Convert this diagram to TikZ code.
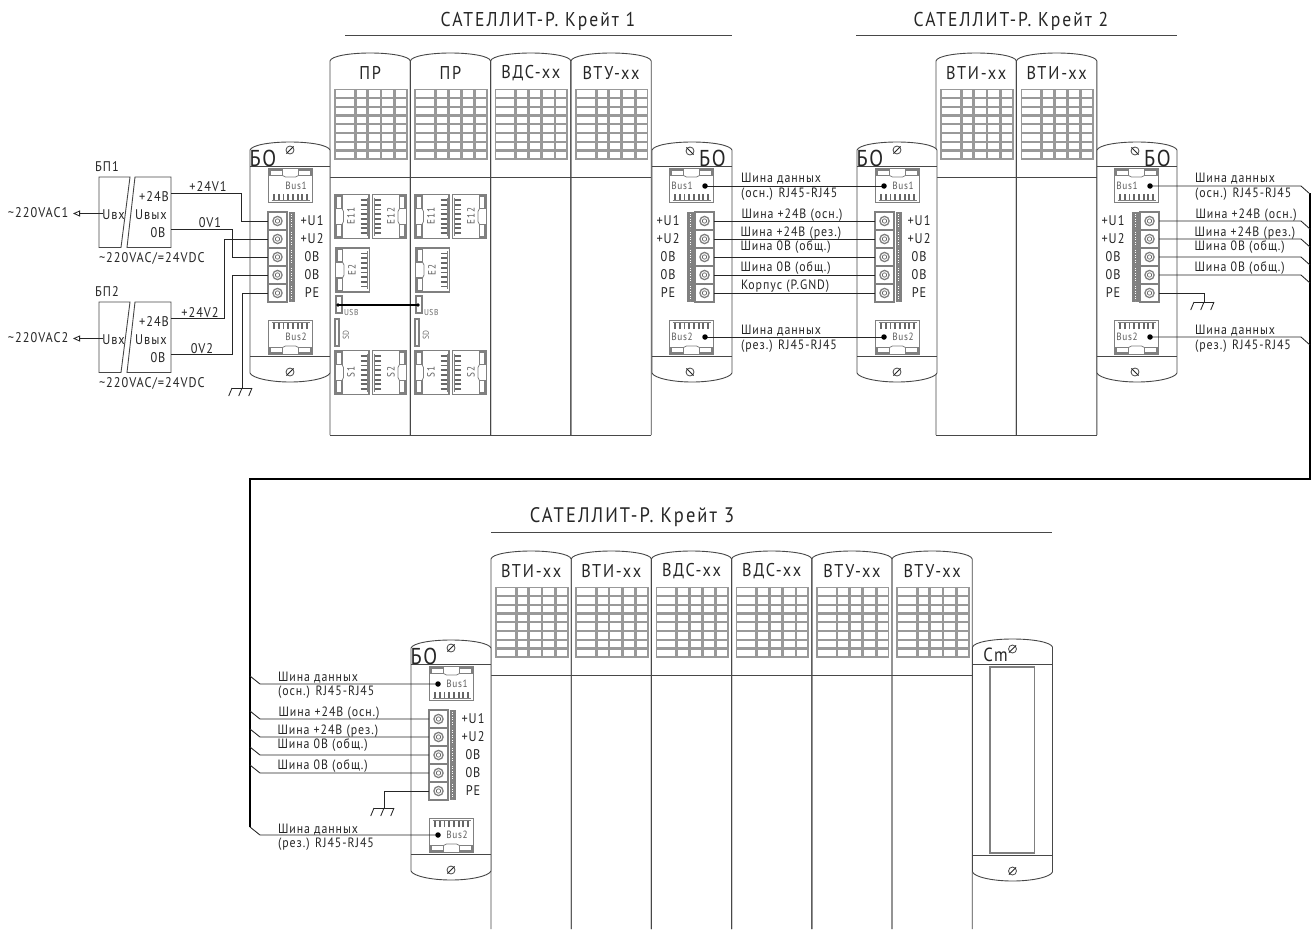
\documentclass[tikz,border=0pt]{standalone}
\usepackage{fontspec}
\setmainfont{PT Sans}
\newfontfamily\gost[LetterSpace=7,FakeStretch=0.88]{PT Sans}
\newfontfamily\gostw[LetterSpace=10,FakeStretch=0.88]{PT Sans}
\usetikzlibrary{arrows.meta,calc}
\definecolor{lg}{gray}{0.5}
\definecolor{ink}{gray}{0.15}
\tikzset{
  every node/.style={inner sep=0pt,outer sep=0pt,text=ink},
  mline/.style={draw=ink!85!white,line width=0.9pt},
  wire/.style={draw=ink,line width=0.85pt},
  tbus/.style={draw=black,line width=2.4pt},
  gbox/.style={draw=lg,line width=1.5pt},
  gthin/.style={draw=lg,line width=0.9pt},
  crate/.style={font=\gostw\fontsize{20}{20}\selectfont},
  crateb/.style={font=\gostw\fontsize{21}{21}\selectfont},
  modt/.style={font=\gostw\fontsize{18.5}{18.5}\selectfont},
  bot/.style={font=\gost\fontsize{23}{23}\selectfont},
  wl/.style={anchor=west,font=\gost\fontsize{13.5}{13.5}\selectfont},
  term/.style={font=\gost\fontsize{14}{14}\selectfont},
  buslab/.style={text=ink!75!white,font=\gost\fontsize{10.5}{10.5}\selectfont},
  tiny/.style={text=ink!70!white,font=\gost\fontsize{8.5}{8.5}\selectfont},
  psu/.style={font=\gost\fontsize{14}{14}\selectfont},
  psuw/.style={anchor=west,font=\gost\fontsize{14}{14}\selectfont},
  dotn/.style={circle,fill=black,minimum size=5.5pt}
}
% LED grid at module origin
\newcommand\LedGrid[1]{%
  \foreach \r in {0,...,7}{%
    \foreach \a/\b in {5/24.7,25.8/37.3,38.4/50.4,51.5/63.9,65/76.7}{%
      \draw[draw=lg!80!white,line width=1.7pt] (#1+\a,36.5+\r*8.75) rectangle (#1+\b,36.5+8.2+\r*8.75);
    }}}
% module: name, x, top, width, title, bottom(relative)
\newcommand\ModuleBody[6]{%
  \begin{scope}[shift={(#2,#3)}]
    \draw[mline] (0,#6) -- (0,8) .. controls (1,3) and (20,0) .. (#4/2,0)
       .. controls (#4-20,0) and (#4-1,3) .. (#4,8) -- (#4,#6);
    \draw[mline] (0,124) -- (#4,124);
    \node[modt] (#1-t) at (#4/2,20) {#5};
    \LedGrid{0}
  \end{scope}}
% RJ45, origin centre, pins down; rotate/flip through options
\newcommand\RJ[2]{%
  \begin{scope}[shift={(#1)},#2]
    \draw[gbox,fill=white] (-22,-17) rectangle (22,17);
    \draw[gthin,line width=1.1pt] (-20.5,-15.5) rectangle (-8,-10);
    \draw[gthin,line width=1.1pt] (8,-15.5) rectangle (20.5,-10);
    \draw[draw=lg,line width=0.8pt] (-8,-10) -- (-5,-8.5) -- (5,-8.5) -- (8,-10);
    \foreach \p in {-16.5,-11.8,-7.1,-2.4,2.4,7.1,11.8,16.5}{\draw[draw=ink!70!white,line width=1.8pt] (\p,8.5) -- (\p,15);}
    \draw[draw=lg,line width=1pt] (-19,15) -- (19,15);
  \end{scope}}
\newcommand\Screw[4]{% name,x,y,dir
  \node[circle,draw=ink!85!white,line width=0.8pt,minimum size=8pt] (#1) at (#2,#3) {};
  \draw[draw=ink,line width=0.8pt] ($(#1)+(-3.6*#4,3.6)$) -- ($(#1)+(3.6*#4,-3.6)$);}
\newcommand\Shell{%
  \draw[mline,fill=white] (0,0) .. controls (2,-5) and (20,-8) .. (40,-8)
     .. controls (60,-8) and (78,-5) .. (80,0) -- (80,223)
     .. controls (78,228) and (60,232) .. (40,232) .. controls (20,232) and (2,228) .. (0,223) -- cycle;
  \draw[mline] (0,16) -- (80,16);
  \draw[mline] (0,206) -- (80,206);}
\newcommand\TermRow[3]{% screwx, stripe x0, y
  \draw[gbox,line width=1.3pt] (#1-9.5,#3-9) rectangle (#1+9.5,#3+9);
  \draw[draw=lg,line width=1.3pt] (#1,#3) circle (4.6pt);
  \draw[draw=ink!70!white,line width=0.7pt] (#1,#3) circle (2.2pt);
  \draw[draw=none,fill=lg] (#2,#3-9) rectangle (#2+6.5,#3+9);
  \draw[draw=white,line width=1.2pt,dash pattern=on 1.3pt off 1.2pt] (#2+3.25,#3-7.5) -- (#2+3.25,#3+7.5);}
% left type: labels on right
\newcommand\BoLeft[3]{%
  \begin{scope}[shift={(#2,#3)}]
    \Shell
    \node[bot] (#1-name) at (13,8) {БО};
    \Screw{#1-s1}{40}{0}{1}
    \Screw{#1-s2}{40}{222}{1}
    \RJ{40.5,35.5}{}
    \RJ{40.5,187.5}{yscale=-1}
    \node[buslab] (#1-l1) at (46,36) {Bus1};
    \node[buslab] (#1-l2) at (46,187) {Bus2};
    \foreach \n/\r/\t in {u1/71/+U1,u2/89/+U2,z1/107/0В,z2/125/0В,pe/143/РЕ}{%
      \TermRow{27.5}{38.5}{\r}
      \coordinate (#1-\n) at (18,\r);
      \node[term] (#1-\n-t) at (62,\r) {\t};}
    \coordinate (#1-b1) at (27,36);
    \coordinate (#1-b2) at (27,187);
  \end{scope}}
\newcommand\BoRight[3]{%
  \begin{scope}[shift={(#2,#3)}]
    \Shell
    \node[bot] (#1-name) at (60.5,8) {БО};
    \Screw{#1-s1}{38}{1}{-1}
    \Screw{#1-s2}{38}{222}{-1}
    \RJ{39.5,35.5}{}
    \RJ{39.5,187.5}{yscale=-1}
    \node[buslab] (#1-l1) at (30,36) {Bus1};
    \node[buslab] (#1-l2) at (30,187) {Bus2};
    \foreach \n/\r/\t in {u1/71/+U1,u2/89/+U2,z1/107/0В,z2/125/0В,pe/143/РЕ}{%
      \TermRow{52.5}{35}{\r}
      \coordinate (#1-\n) at (62,\r);
      \node[term] (#1-\n-t) at (16,\r) {\t};}
    \coordinate (#1-b1) at (53,36);
    \coordinate (#1-b2) at (53,187);
  \end{scope}}
\newcommand\GroundSym[1]{% top at coordinate
  \draw[wire] ($(#1)+(-10,0)$) -- ($(#1)+(10,0)$);
  \foreach \d in {-10,0,10}{\draw[wire] ($(#1)+(\d,0)$) -- ($(#1)+(\d-3.3,8)$);}}
\newcommand\PSU[2]{% name, y of top
  \begin{scope}[shift={(0,#2)}]
    \draw[mline] (130,0) -- (99,0) -- (99,70.5) -- (121,70.5) -- cycle;
    \draw[mline] (135,0) -- (171,0) -- (171,70.5) -- (127,70.5) -- cycle;
    \node[psu] (#1-ux) at (113.5,38) {Uвх};
    \node[psu] (#1-uy) at (151,38) {Uвых};
    \node[psu] (#1-p) at (154,20) {+24В};
    \node[psu] (#1-z) at (158,56) {0В};
    \node[psuw] (#1-r) at (99,81) {\textasciitilde220VAC/=24VDC};
    \coordinate (#1-plus) at (171,16.5);
    \coordinate (#1-zero) at (171,52.5);
    \coordinate (#1-in) at (103,36.5);
    \coordinate (#1-ac) at (73,36.5);
  \end{scope}}
\newcommand\BusLabels[3]{% prefix, x, dy
  \node[wl] (#1-a) at (#2,179+#3) {Шина данных};
  \node[wl] (#1-b) at (#2,194+#3) {(осн.) RJ45-RJ45};
  \node[wl] (#1-c) at (#2+0.5,215+#3) {Шина +24В (осн.)};
  \node[wl] (#1-d) at (#2-0.5,233+#3) {Шина +24В (рез.)};
  \node[wl] (#1-e) at (#2-0.5,247+#3) {Шина 0В (общ.)};
  \node[wl] (#1-f) at (#2-0.5,268+#3) {Шина 0В (общ.)};
  \node[wl] (#1-h) at (#2,331+#3) {Шина данных};
  \node[wl] (#1-i) at (#2,346+#3) {(рез.) RJ45-RJ45};}
\begin{document}
\begin{tikzpicture}[x=1pt,y=-1pt]
\useasboundingbox (0,0) rectangle (1311,929);
\fill[white] (0,0) rectangle (1311,929);

% ---- titles
\node[crate] (t1) at (538,21) {САТЕЛЛИТ-Р. Крейт 1};
\coordinate (t1a) at (345,35); \coordinate (t1b) at (732,35);
\draw[mline] (t1a) -- (t1b);
\node[crate] (t2) at (1011,21) {САТЕЛЛИТ-Р. Крейт 2};
\coordinate (t2a) at (856,35); \coordinate (t2b) at (1177,35);
\draw[mline] (t2a) -- (t2b);
\node[crateb] (t3) at (632,517) {САТЕЛЛИТ-Р. Крейт 3};
\coordinate (t3a) at (491,532); \coordinate (t3b) at (1052,532);
\draw[mline] (t3a) -- (t3b);

% ---- crate 1
\ModuleBody{m11}{330}{53}{80.3}{ПР}{382}
\ModuleBody{m12}{410.3}{53}{80.3}{ПР}{382}
\ModuleBody{m13}{490.6}{53}{80.3}{ВДС-хх}{382}
\ModuleBody{m14}{570.9}{53}{80.3}{ВТУ-хх}{382}
\coordinate (c1a) at (330,435); \coordinate (c1b) at (651.2,435);
\draw[mline] (c1a) -- (c1b);

% ---- crate 2
\ModuleBody{m21}{936}{53}{80.4}{ВТИ-хх}{382}
\ModuleBody{m22}{1016.4}{53}{80.4}{ВТИ-хх}{382}
\coordinate (c2a) at (936,435); \coordinate (c2b) at (1096.8,435);
\draw[mline] (c2a) -- (c2b);

% ---- crate 3
\ModuleBody{m31}{491}{551}{80.2}{ВТИ-хх}{378}
\ModuleBody{m32}{571.2}{551}{80.2}{ВТИ-хх}{378}
\ModuleBody{m33}{651.4}{551}{80.2}{ВДС-хх}{378}
\ModuleBody{m34}{731.6}{551}{80.2}{ВДС-хх}{378}
\ModuleBody{m35}{811.8}{551}{80.2}{ВТУ-хх}{378}
\ModuleBody{m36}{892}{551}{80.2}{ВТУ-хх}{378}

% ---- Cm
\begin{scope}[shift={(972.5,647)}]
  \draw[mline,fill=white] (0,0) .. controls (2,-5) and (20,-8) .. (40,-8)
     .. controls (60,-8) and (78,-5) .. (80,0) -- (80,225)
     .. controls (78,230) and (60,234) .. (40,234) .. controls (20,234) and (2,230) .. (0,225) -- cycle;
  \draw[mline] (0,17) -- (80,17);
  \draw[mline] (0,208) -- (80,208);
  \draw[draw=lg,line width=1.3pt] (17.5,20) rectangle (62,206);
  \node[bot,font=\gost\fontsize{19}{19}\selectfont] (cm) at (23,8) {Cm};
  \Screw{cm-s1}{40}{2}{1}
  \Screw{cm-s2}{40}{224}{1}
\end{scope}

% ---- PR internals
\foreach \o/\n in {335/a,415/b}{%
  \begin{scope}[shift={(\o,0)}]
    \RJ{17,216.5}{rotate=90}
    \RJ{54.5,216.5}{rotate=-90}
    \RJ{17.5,270}{rotate=90}
    \RJ{17,372.5}{rotate=90}
    \RJ{54.5,372.5}{rotate=-90}
    \node[buslab,rotate=90] (e11\n) at (16,216) {E11};
    \node[buslab,rotate=90] (e12\n) at (56,216) {E12};
    \node[buslab,rotate=90] (e2\n) at (17,270) {E2};
    \node[buslab,rotate=90] (s1\n) at (16,372) {S1};
    \node[buslab,rotate=90] (s2\n) at (56,372) {S2};
    \draw[draw=lg,line width=1.1pt,fill=white] (1,296) rectangle (7,313);
    \draw[draw=lg,line width=1.1pt,fill=white] (0,319) rectangle (4,346);
    \node[tiny,anchor=west] (usb\n) at (9,313) {USB};
    \node[tiny,rotate=90] (sd\n) at (11,335) {SD};
    \coordinate (usbc\n) at (3,305);
  \end{scope}}
\draw[draw=black,line width=1.6pt] (usbca) -- (usbcb);
\fill[black] (usbca) circle (1.8pt) (usbcb) circle (1.8pt);

% ---- BO blocks
\BoLeft{bo1}{250}{150}
\BoRight{bo2}{652}{150}
\BoLeft{bo3}{857}{150}
\BoRight{bo4}{1097}{150}
\BoLeft{bo5}{411}{648}

% ---- PSU
\node[psu] (bp1) at (107,167) {БП1};
\node[psu] (bp2) at (107,292) {БП2};
\PSU{p1}{177}
\PSU{p2}{302}
\node[psuw] (ac1) at (8,213) {\textasciitilde220VAC1};
\node[psuw] (ac2) at (8,338) {\textasciitilde220VAC2};
\draw[wire,-{Triangle[open,length=7pt,width=6pt]}] (p1-in) -- (p1-ac);
\draw[wire,-{Triangle[open,length=7pt,width=6pt]}] (p2-in) -- (p2-ac);
\coordinate (j1) at (241.7,0); \coordinate (j2) at (232.7,0);
\coordinate (j3) at (224,0);  \coordinate (j4) at (232.7,0);
\draw[wire] (p1-plus) -| (j1 |- bo1-u1) -- (bo1-u1);
\draw[wire] (p1-zero) -| (j2 |- bo1-z1) -- (bo1-z1);
\draw[wire] (p2-plus) -| (j3 |- bo1-u2) -- (bo1-u2);
\draw[wire] (p2-zero) -| (j4 |- bo1-z2) -- (bo1-z2);
\coordinate (g1) at (242,388);
\draw[wire] (bo1-pe) -| (g1);
\GroundSym{g1}
\node[psu] (w1) at (208,187) {+24V1};
\node[psu] (w2) at (210,223) {0V1};
\node[psu] (w3) at (200,313) {+24V2};
\node[psu] (w4) at (202,349) {0V2};

% ---- crate 1 to crate 2
\foreach \n in {u1,u2,z1,z2,pe}{\draw[wire] (bo2-\n) -- (bo3-\n);}
\draw[wire] (bo2-b1) -- (bo3-b1);
\draw[wire] (bo2-b2) -- (bo3-b2);
\node[dotn] (d1) at (bo2-b1) {}; \node[dotn] (d2) at (bo3-b1) {};
\node[dotn] (d3) at (bo2-b2) {}; \node[dotn] (d4) at (bo3-b2) {};
\BusLabels{la}{741}{0}
\node[wl] (la-pe) at (741,286) {Корпус (P.GND)};

% ---- thick bus
\coordinate (tb1) at (1310,193); \coordinate (tb2) at (1310,479);
\coordinate (tb3) at (250,479);  \coordinate (tb4) at (250,827);
\draw[tbus,line join=miter] (tb1) -- (tb2) -- (tb3) -- (tb4);

% ---- crate 2 to bus
\foreach \n in {u1,u2,z1,z2,b1,b2}{%
  \draw[wire] (bo4-\n) -- ($(1301,0)!(bo4-\n)!(1301,10)$) -- ++(9,8);}
\node[dotn] (d5) at (bo4-b1) {}; \node[dotn] (d6) at (bo4-b2) {};
\BusLabels{lb}{1195}{0}
\coordinate (g2) at (1204,302);
\draw[wire] (bo4-pe) -| (g2);
\GroundSym{g2}

% ---- bus to crate 3
\foreach \n in {u1,u2,z1,z2,b1,b2}{%
  \draw[wire] (bo5-\n) -- ($(260,0)!(bo5-\n)!(260,10)$) -- ++(-10,-8);}
\node[dotn] (d7) at (bo5-b1) {}; \node[dotn] (d8) at (bo5-b2) {};
\BusLabels{lc}{278}{498.5}
\coordinate (g3) at (384,808);
\draw[wire] (bo5-pe) -| (g3);
\GroundSym{g3}
\end{tikzpicture}
\end{document}
